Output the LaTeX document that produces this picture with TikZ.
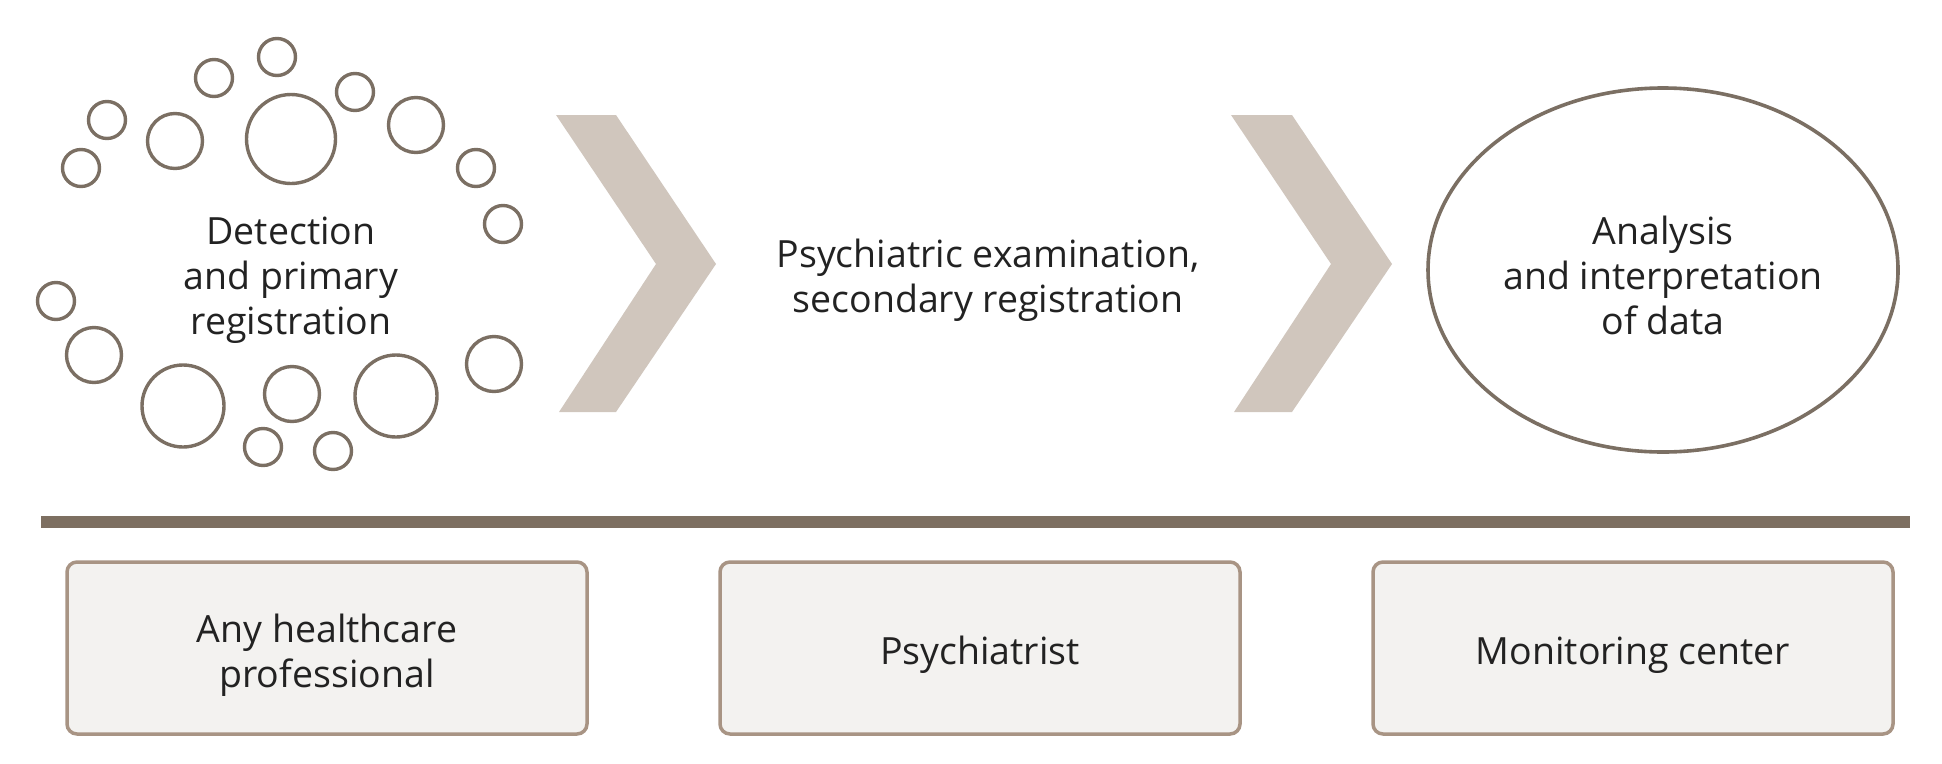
\documentclass[tikz,border=0pt]{standalone}
\usepackage{fontspec}
\setmainfont{Open Sans}
\usetikzlibrary{shapes.geometric}
\definecolor{ring}{HTML}{7B6F63}
\definecolor{chev}{HTML}{D0C6BD}
\definecolor{barc}{HTML}{7D6F61}
\definecolor{boxline}{HTML}{A89484}
\definecolor{boxfill}{HTML}{F3F2F0}
\definecolor{txt}{HTML}{222222}
\tikzset{
  ring/.style={circle, draw=ring, line width=3.4pt, inner sep=0pt, minimum size=#1},
  chevron/.style={fill=chev, draw=none},
  label/.style={align=center, text=txt, font=\fontsize{37.5}{45}\selectfont, inner sep=0pt},
  rolebox/.style={draw=boxline, fill=boxfill, line width=3.5pt, rounded corners=10pt,
     minimum width=520pt, minimum height=172pt, inner sep=0pt},
}
\begin{document}
\begin{tikzpicture}[x=1pt, y=-1pt]
\useasboundingbox (0,0) rectangle (1942,763);
% circles
\node[ring=37pt] (c1) at (277,57) {};
\node[ring=37pt] (c2) at (214,78) {};
\node[ring=37pt] (c3) at (107,120) {};
\node[ring=37pt] (c4) at (81,168) {};
\node[ring=55pt] (c5) at (175,141) {};
\node[ring=89pt] (c6) at (291,139) {};
\node[ring=37pt] (c7) at (355,92) {};
\node[ring=55pt] (c8) at (416,125) {};
\node[ring=37pt] (c9) at (476,168) {};
\node[ring=37pt] (c10) at (503,224) {};
\node[ring=37pt] (c11) at (56,301) {};
\node[ring=55pt] (c12) at (94,355) {};
\node[ring=82pt] (c13) at (183,406) {};
\node[ring=55pt] (c14) at (292,394) {};
\node[ring=82pt] (c15) at (396,396) {};
\node[ring=55pt] (c16) at (494,364) {};
\node[ring=37pt] (c17) at (263,447) {};
\node[ring=37pt] (c18) at (333,451) {};
\node[label] (t1) at (291,280) {Detection\\and primary\\registration};
% chevrons
\fill[chevron] (556,115) -- (616,115) -- (716,264) -- (616,412) -- (559,412) -- (656,264) -- cycle;
\fill[chevron] (1231,115) -- (1292,115) -- (1392,264) -- (1292,412) -- (1234,412) -- (1331,264) -- cycle;
\node[label] (t2) at (988,280) {Psychiatric examination,\\secondary registration};
% ellipse
\node[ellipse, draw=ring, line width=3.6pt, minimum width=470pt, minimum height=364pt] (e) at (1663,270) {};
\node[label] (t3) at (1663,275) {Analysis\\and interpretation\\of data};
% bar
\fill[barc] (41,516) rectangle (1910,528);
% boxes
\node[rolebox] (b1) at (327,648) {};
\node[rolebox] (b2) at (980,648) {};
\node[rolebox] (b3) at (1633,648) {};
\node[label] (l1) at (327,655) {Any healthcare\\professional};
\node[label] (l2) at (980,655) {Psychiatrist};
\node[label] (l3) at (1633,655) {Monitoring center};
\end{tikzpicture}
\end{document}
